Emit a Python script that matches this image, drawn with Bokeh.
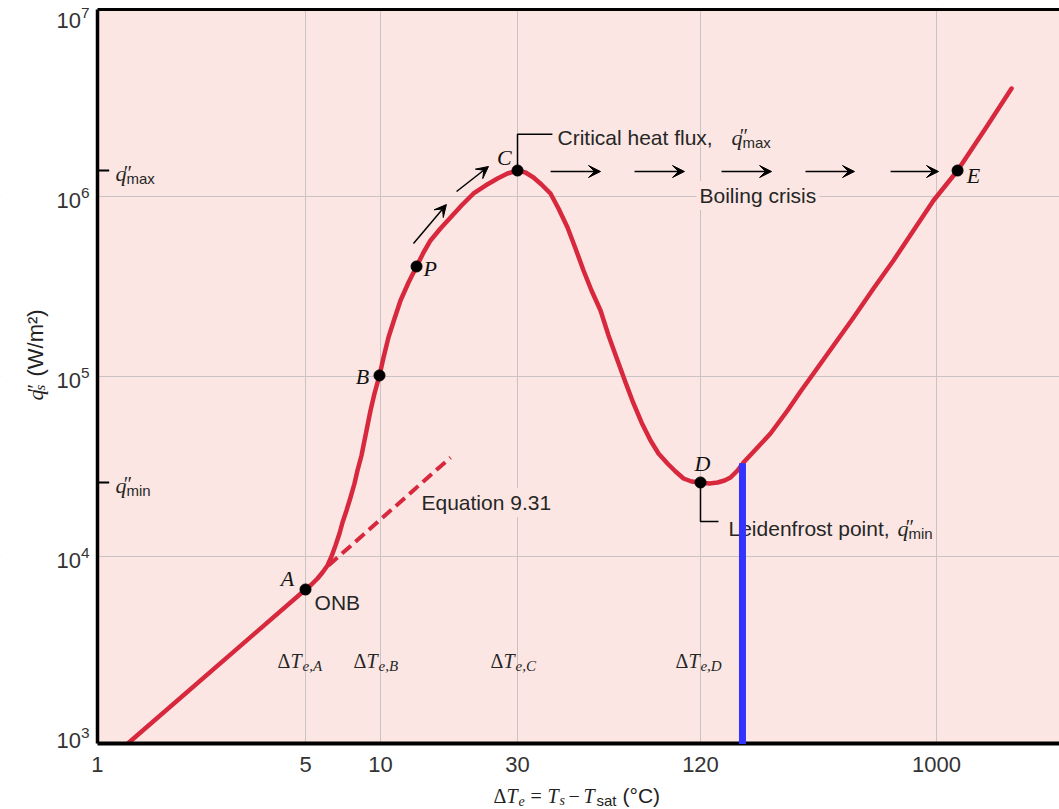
from math import pi
from bokeh.plotting import figure
from bokeh.models import Range1d, FixedTicker, LogAxis, Label, Arrow, VeeHead
from bokeh.embed import file_html
from bokeh.resources import INLINE

# ---------------- data (schematic log-log boiling curve) ----------------
# excess temperature (axis units) and surface heat flux q''s (W/m^2)
dT = [1.256, 5.433, 5.705, 5.991, 6.238, 6.497, 6.713, 6.934, 7.164, 7.341,
      7.585, 7.834, 8.093, 8.293, 8.568, 8.780, 8.997, 9.220, 9.524, 9.919,
      10.25, 10.67, 11.21, 11.77, 12.56, 13.41, 14.19, 15.02, 16.29, 17.68,
      19.33, 21.32, 23.50, 25.91, 28.10, 30.49, 32.54, 34.72, 37.06, 39.87,
      42.56, 45.80, 48.87, 52.17, 55.66, 59.91, 63.93, 68.80, 73.43, 78.34,
      83.62, 89.98, 96.01, 103.3, 110.3, 117.7, 125.6, 135.1, 145.4, 155.2,
      164.3, 172.5, 182.6, 191.7, 213.2, 238.8, 274.3, 304.9, 338.8, 398.8,
      469.3, 552.1, 649.5, 764.2, 899.5, 992.0, 1094, 1373, 1697]
q = [894, 6574, 7009, 7568, 8172, 8937, 10030, 11540, 13460, 15490,
     18060, 21330, 25510, 30120, 36490, 44220, 53570, 64920, 80690, 101600,
     127900, 165100, 210600, 265000, 333700, 409600, 489800, 571300, 665800, 766200,
     893700, 1042000, 1154000, 1262000, 1346000, 1398000, 1363000, 1279000, 1169000, 1042000,
     859900, 674500, 515500, 389000, 301200, 233200, 169400, 123000, 92860, 71010,
     55670, 44220, 37440, 32950, 29740, 27190, 26170, 25840, 25510, 25840,
     26510, 27540, 30120, 33370, 39910, 48340, 64920, 82780, 104200, 149000,
     213300, 309000, 442200, 649000, 952600, 1154000, 1398000, 2393000, 3991000]

pt_name = ["A", "B", "P", "C", "D", "E"]
pt_dT = [5.433, 9.919, 13.41, 30.49, 135.1, 1094]
pt_q = [6574, 101600, 409600, 1398000, 25840, 1398000]

eq931_dT = [6.55, 17.67]          # Equation 9.31 extrapolation
eq931_q = [8930, 35560]

blue_dT = [190.1]                 # vertical marker
blue_q_top = [33000]

x_tick_pos = [1, 5.433, 10, 30.49, 135.1, 921.9]
x_tick_text = ["1", "5", "10", "30", "120", "1000"]
y_ticks = [1e3, 1e4, 1e5, 1e6, 1e7]
y_grid = [1e4, 1e5, 1e6]

q_max = 1398000
q_min = 25840

# view (whole canvas) and plotting box
X_START, X_END = 0.45432, 2507.0
Y_START, Y_END = 394.1, 1.2303e7
BX0, BY0, BY1 = 1.0, 912.0, 1.0965e7

PINK = "#FBE6E3"
RED = "#D8283E"
TXT = "#262626"
SANS = "Liberation Sans"
SERIF = "Liberation Serif"

p = figure(width=1059, height=809, x_axis_type="log", y_axis_type="log",
           x_range=Range1d(X_START, X_END), y_range=Range1d(Y_START, Y_END),
           output_backend="svg", toolbar_location=None,
           background_fill_color="white", border_fill_color="white")
p.min_border = 0
p.min_border_left = 0
p.min_border_right = 0
p.min_border_top = 0
p.min_border_bottom = 0
p.outline_line_color = None

# plotting box background
p.quad(left=[BX0], right=[X_END], bottom=[BY0], top=[BY1], fill_color=PINK,
       line_color=None, level="image")

# axes (fixed at the box edges)
xt = FixedTicker(ticks=x_tick_pos)
yt = FixedTicker(ticks=y_ticks)
xa = p.xaxis[0]
xa.ticker = xt
xa.major_label_overrides = {v: s for v, s in zip(x_tick_pos, x_tick_text)}
xa.fixed_location = BY0
xa.bounds = (BX0, X_END)
ya = p.yaxis[0]
ya.ticker = yt
ya.fixed_location = BX0
ya.bounds = (BY0, BY1)
for ax, lw, so in ((xa, 4, 13), (ya, 3.5, 8)):
    ax.axis_line_width = lw
    ax.axis_line_color = "black"
    ax.major_tick_in = 0
    ax.major_tick_out = 0
    ax.minor_tick_in = 0
    ax.minor_tick_out = 0
    ax.major_label_text_font = SANS
    ax.major_label_text_font_size = "22px"
    ax.major_label_text_color = "#333333"
    ax.major_label_standoff = so
p.xgrid[0].ticker = FixedTicker(ticks=x_tick_pos[1:])
p.ygrid[0].ticker = FixedTicker(ticks=y_grid)
for g in (p.xgrid[0], p.ygrid[0]):
    g.grid_line_color = "#C9C3C3"
    g.grid_line_width = 1

top = LogAxis(ticker=FixedTicker(ticks=[]), major_label_text_font_size="0px",
              major_tick_in=0, major_tick_out=0, minor_tick_in=0, minor_tick_out=0,
              axis_line_width=3, axis_line_color="black", major_label_standoff=0,
              fixed_location=BY1, bounds=(BX0, X_END))
p.add_layout(top, "above")

# curves
p.line(eq931_dT, eq931_q, line_color=RED, line_width=4, line_dash="12 6")
p.line(dT, q, line_color=RED, line_width=4.5, line_join="round", line_cap="round")

# white margins outside the plotting box (hide grid/curve overflow)
p.quad(left=[X_START, X_START, X_START], right=[BX0, X_END, X_END],
       bottom=[Y_START, Y_START, BY1], top=[Y_END, BY0, Y_END],
       fill_color="white", line_color=None)

p.scatter(pt_dT, pt_q, size=11, color="black")

# q''max / q''min marks on the axis
p.segment(x0=[BX0, BX0], y0=[q_max, q_min], x1=[1.10, 1.10], y1=[q_max, q_min],
          line_color="black", line_width=2)

# leaders
p.line([pt_dT[3], pt_dT[3], 40.5], [q_max, 2.22e6, 2.22e6], line_color="black", line_width=1.5)
p.line([pt_dT[4], pt_dT[4], 156.4], [q_min, 15700, 15700], line_color="black", line_width=1.5)

BASE_SHIFT = 7  # alphabetic anchor correction (px)


def lbl(x, y, text, size=21, font=SANS, style="normal", dx=0, dy=0, align="left",
        baseline="alphabetic", angle=0, color=TXT, alpha=1.0, bg=None):
    if baseline == "alphabetic":
        if angle == 0:
            dy += BASE_SHIFT
        else:
            dx -= BASE_SHIFT
    l = Label(x=x, y=y, text=text, x_offset=dx, y_offset=dy, angle=angle,
              text_font=font, text_font_style=style, text_font_size=f"{size}px",
              text_align=align, text_baseline=baseline, text_color=color, text_alpha=alpha)
    if bg is not None:
        l.background_fill_color = bg
        l.padding = 3
    p.add_layout(l)
    return l


def qpp(x, y, sub, dx=0, dy=0):
    lbl(x, y, "q", 22, SERIF, "italic", dx=dx, dy=dy)
    lbl(x, y, "\u2033", 20, SERIF, "italic", dx=dx + 7, dy=dy + 1)
    lbl(x, y, sub, 15, SANS, dx=dx + 11, dy=dy - 5)


# point labels
pt_lab_x = [4.69, 8.64, 15.0, 27.4, 137.4, 1245]
pt_lab_y = [7570, 1.0e5, 3.99e5, 1.65e6, 3.30e4, 1.31e6]
for name, lx, ly in zip(pt_name, pt_lab_x, pt_lab_y):
    lbl(lx, ly, name, 22, SERIF, "italic", align="center", baseline="middle", color="#111111")

# texts
lbl(5.85, 5570, "ONB", 21, baseline="middle")
lbl(13.62, 2.0e4, "Equation 9.31", 21, baseline="middle", bg=PINK)
lbl(130.8, 1.016e6, "Boiling crisis", 21, baseline="middle", bg=PINK)
lbl(42.2, 1.95e6, "Critical heat flux,", 21)
qpp(42.2, 1.95e6, "max", dx=174)
lbl(169.7, 1.312e4, "Leidenfrost point,", 21)
qpp(169.7, 1.312e4, "min", dx=169)

# axis-side q'' labels
qpp(1.158, q_max, "max", dy=-10)
qpp(1.158, q_min, "min", dy=-10)

# Delta T labels
Y_DT = 2421
for x0, sub in zip([4.325, 8.03, 24.47, 110.2], ["e,A", "e,B", "e,C", "e,D"]):
    lbl(x0, Y_DT, "\u0394T" + sub, 20, SERIF, "italic", alpha=0.0, bg=PINK)
    lbl(x0, Y_DT, "\u0394", 20, SERIF)
    lbl(x0, Y_DT, "T", 20, SERIF, "italic", dx=13)
    lbl(x0, Y_DT, sub, 15, SERIF, "italic", dx=25, dy=-5)

# x-axis title (composite)
XT_X, XT_Y = 25.08, 430.9
for text, dx, dy, size, font, style in [
        ("\u0394", 0, 0, 20, SERIF, "normal"), ("T", 13, 0, 20, SERIF, "italic"),
        ("e", 25, -5, 14, SERIF, "italic"), ("=", 37, 0, 20, SERIF, "normal"),
        ("T", 54, 0, 20, SERIF, "italic"), ("s", 66, -5, 14, SERIF, "italic"),
        ("\u2212", 75, 0, 20, SERIF, "normal"), ("T", 90, 0, 20, SERIF, "italic"),
        ("sat", 103, -5, 15, SANS, "normal"), ("(\u00b0C)", 129, 0, 21, SANS, "normal")]:
    lbl(XT_X, XT_Y, text, size, font, style, dx=dx, dy=dy, color="#222222")

# y-axis title (composite, rotated)
YT_X, YT_Y = 0.6393, 73770
for text, dx, dy, size, font, style in [
        ("q", 0, 0, 22, SERIF, "italic"), ("\u2033", 0, 7, 20, SERIF, "italic"),
        ("s", 5, 10, 15, SERIF, "italic"), ("(W/m\u00b2)", 0, 24, 22, SANS, "normal")]:
    lbl(YT_X, YT_Y, text, size, font, style, dx=dx, dy=dy, angle=pi / 2, color="#222222")

# arrows
head = dict(size=12, fill_color="black", line_color="black")
for (xs, ys, xe, ye) in [(13.08, 5.495e5, 17.10, 9.05e5), (18.57, 1.069e6, 24.08, 1.472e6)]:
    p.add_layout(Arrow(end=VeeHead(**head), x_start=xs, y_start=ys, x_end=xe, y_end=ye,
                       line_width=1.5, line_color="black"))
crisis_q = 1380000
for xs, xe in [(39.9, 59.9), (79.0, 118.6), (160.3, 240.9), (317.5, 473.0), (634.4, 937.0)]:
    p.add_layout(Arrow(end=VeeHead(**head), x_start=xs, y_start=crisis_q, x_end=xe, y_end=crisis_q,
                       line_width=1.5, line_color="black"))

# blue vertical marker (drawn above texts)
rb = p.segment(x0=blue_dT, y0=[BY0], x1=blue_dT, y1=blue_q_top, line_color="#3333FF",
               line_width=7, line_cap="butt")
rb.level = "overlay"

open("out.html", "w").write(file_html(p, INLINE))
